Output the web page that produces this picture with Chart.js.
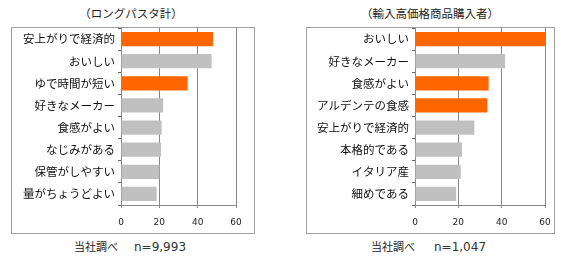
<!DOCTYPE html>
<html><head><meta charset="utf-8">
<script src="https://cdn.jsdelivr.net/npm/chart.js@4/dist/chart.umd.min.js"></script>
<style>
html,body{margin:0;padding:0;background:#fff;}
#wrap{position:relative;width:565px;height:260px;overflow:hidden;font-family:"Noto Sans CJK JP",sans-serif;color:#222;}
.box{position:absolute;border:1px solid #a0a0a0;box-sizing:border-box;}
.t{position:absolute;white-space:nowrap;line-height:1;}
canvas{position:absolute;top:0;}
</style></head>
<body><div id="wrap">
<div class="box" style="left:11px;top:27px;width:244px;height:207px;"></div>
<div class="box" style="left:306px;top:27px;width:249px;height:207px;"></div>
<div class="t" style="left:131px;top:8px;transform:translateX(-50%);font-size:11.5px;">（ロングパスタ計）</div>
<div class="t" style="left:430px;top:8px;transform:translateX(-50%);font-size:11.5px;">（輸入高価格商品購入者）</div>
<div class="t" style="left:74px;top:241px;font-size:11px;">当社調べ</div>
<div class="t" style="left:134px;top:241px;font-size:12px;font-family:'DejaVu Sans';color:#333;">n=9,993</div>
<div class="t" style="left:371px;top:241px;font-size:11px;">当社調べ</div>
<div class="t" style="left:434px;top:241px;font-size:12px;font-family:'DejaVu Sans';color:#333;">n=1,047</div>
<div style="position:absolute;left:0;top:0;width:280px;height:260px;"><canvas id="c1" width="280" height="260"></canvas></div>
<div style="position:absolute;left:280px;top:0;width:285px;height:260px;"><canvas id="c2" width="285" height="260"></canvas></div>
</div>
<script>
const ORANGE = '#FF6600', GRAY = '#C0C0C0';
const xTicks = [0, 20, 40, 60];

const leftCategories = ['安上がりで経済的','おいしい','ゆで時間が短い','好きなメーカー','食感がよい','なじみがある','保管がしやすい','量がちょうどよい'];
const leftValues = [48, 47.3, 34.8, 22, 21.2, 20.9, 20, 18.6];
const leftHighlight = [true, false, true, false, false, false, false, false];

const rightCategories = ['おいしい','好きなメーカー','食感がよい','アルデンテの食感','安上がりで経済的','本格的である','イタリア産','細めである'];
const rightValues = [60, 41.6, 34, 33.4, 27.4, 21.7, 21.1, 19];
const rightHighlight = [true, false, true, true, false, false, false, false];

function makeChart(id, cats, vals, hi, yWidth, padRight){
  return new Chart(document.getElementById(id), {
    type: 'bar',
    data: { labels: cats, datasets: [{ data: vals,
      backgroundColor: hi.map(h => h ? ORANGE : GRAY),
      borderWidth: 0, barPercentage: 0.64, categoryPercentage: 1 }] },
    options: {
      indexAxis: 'y', responsive: false, animation: false,
      layout: { padding: { top: 28, right: padRight, left: 0, bottom: 0 } },
      plugins: { legend: { display: false }, tooltip: { enabled: false } },
      scales: {
        x: { min: 0, max: 60,
          afterBuildTicks: s => { s.ticks = xTicks.map(v => ({ value: v })); },
          afterFit: s => { s.height = 55; },
          grid: { color: '#888', lineWidth: 1, tickLength: 3, drawTicks: true },
          border: { color: '#888', width: 1 },
          ticks: { color: '#222', padding: 9, font: { family: 'DejaVu Sans', size: 9 } } },
        y: { afterFit: s => { s.width = yWidth; },
          grid: { drawOnChartArea: false, color: '#666', tickLength: 3, offset: true },
          border: { color: '#888', width: 1 },
          ticks: { color: '#111', padding: 3, autoSkip: false, font: { family: 'Noto Sans CJK JP', size: 11.5 } } }
      }
    }
  });
}
makeChart('c1', leftCategories, leftValues, leftHighlight, 121, 44);
makeChart('c2', rightCategories, rightValues, rightHighlight, 135, 20);
</script>
</body></html>
